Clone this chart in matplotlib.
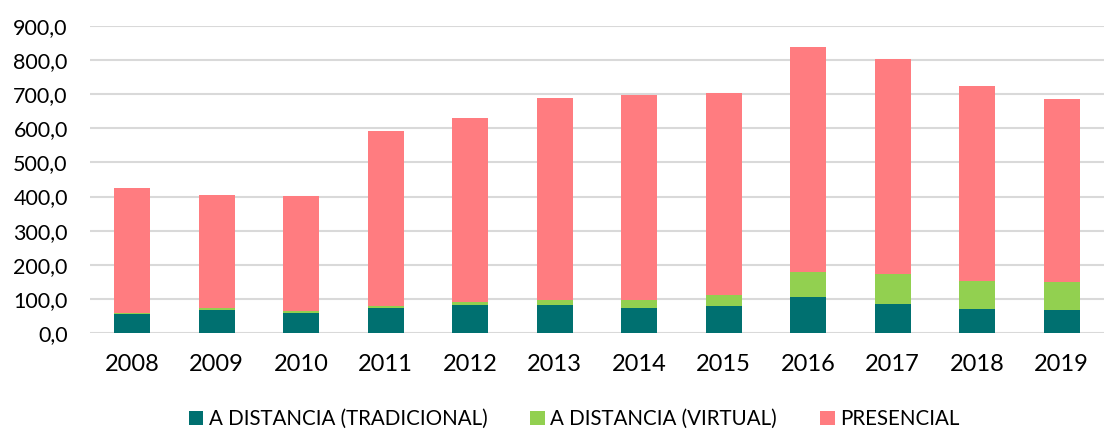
import matplotlib
matplotlib.use("Agg")
import matplotlib.pyplot as plt
from matplotlib.ticker import FuncFormatter

years = ["2008", "2009", "2010", "2011", "2012", "2013",
         "2014", "2015", "2016", "2017", "2018", "2019"]
tradicional = [57, 69, 60, 72, 83, 83, 73, 78, 107, 84, 71, 67]
virtual = [2, 4, 4, 6, 9, 14, 25, 33, 72, 89, 82, 83]
presencial = [366, 332, 338, 513, 538, 592, 601, 591, 660, 630, 572, 536]

series_names = ["A DISTANCIA (TRADICIONAL)", "A DISTANCIA (VIRTUAL)", "PRESENCIAL"]
colors = ["#007070", "#92D050", "#FF7C80"]

plt.rcParams["font.family"] = ["Lato", "DejaVu Sans"]

fig = plt.figure(figsize=(11.04, 4.32), dpi=100)
ax = fig.add_axes([0.0815, 0.229, 0.9185, 0.711])

x = range(len(years))
w = 0.43
bottom2 = [a + b for a, b in zip(tradicional, virtual)]
ax.bar(x, tradicional, w, color=colors[0], label=series_names[0], zorder=3)
ax.bar(x, virtual, w, bottom=tradicional, color=colors[1], label=series_names[1], zorder=3)
ax.bar(x, presencial, w, bottom=bottom2, color=colors[2], label=series_names[2], zorder=3)

ax.set_xlim(-0.5, len(years) - 0.5)
ax.set_ylim(0, 900)
ax.set_yticks(range(0, 901, 100))
ax.yaxis.set_major_formatter(FuncFormatter(lambda v, p: f"{v:.1f}".replace(".", ",")))
ax.set_xticks(list(x))
ax.set_xticklabels(years)
ax.grid(axis="y", color="#D9D9D9", linewidth=1.5, zorder=0)
for s in ax.spines.values():
    s.set_visible(False)
ax.tick_params(axis="both", length=0, colors="black")
ax.tick_params(axis="x", pad=15, labelsize=17)
ax.tick_params(axis="y", pad=16, labelsize=15.5)

fig.legend(loc="center", bbox_to_anchor=(0.52, 0.03), ncol=3, frameon=False,
           fontsize=14.8, handlelength=0.72, handleheight=0.72, handletextpad=0.25,
           columnspacing=2.1)

fig.savefig("out.png", dpi=100)
